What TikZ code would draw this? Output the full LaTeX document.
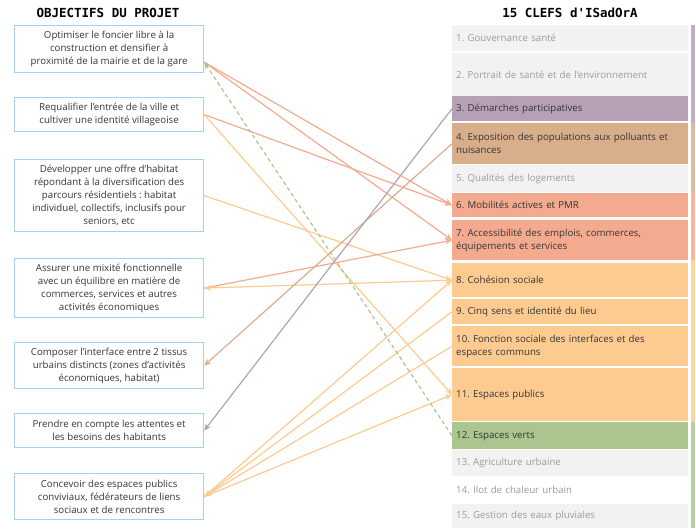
\documentclass[tikz,border=0pt]{standalone}
\usepackage{fontspec}
\setmainfont{Open Sans}
\newfontfamily\titlefont{DejaVu Sans Mono}
\usetikzlibrary{arrows.meta,calc}
\frenchspacing

\definecolor{boxblue}{HTML}{A9CEEE}
\definecolor{txtdark}{HTML}{363636}
\definecolor{txtgray}{HTML}{9C9C9C}
\definecolor{keygray}{HTML}{F2F2F2}
\definecolor{keypurple}{HTML}{B5A0B5}
\definecolor{keytan}{HTML}{D9AE8A}
\definecolor{keysalmon}{HTML}{F4AA8E}
\definecolor{keyorange}{HTML}{FDCB90}
\definecolor{keygreen}{HTML}{AAC58E}

\tikzset{
  objbox/.style={draw=boxblue, line width=1.2pt, anchor=north west, minimum width=189pt,
    align=center, inner sep=0pt, text=txtdark, font=\fontsize{9.7}{13}\selectfont},
  keyrow/.style={anchor=north west, text width=228pt, inner xsep=4pt, inner ysep=0pt,
    align=left, text=txtdark, font=\fontsize{9.7}{13}\selectfont},
  keyoff/.style={keyrow, fill=keygray, text=txtgray},
  title/.style={font=\titlefont\bfseries\fontsize{12.5}{14}\selectfont, text=black},
  link/.style={-{Stealth[length=7pt,width=6pt]}, line width=1.2pt},
}

\begin{document}
\begin{tikzpicture}[x=1pt,y=-1pt]
  \useasboundingbox (0,0) rectangle (696,528);

  % titles
  \node[title] (tobj) at (108,13) {OBJECTIFS DU PROJET};
  \node[title] (tkey) at (570,13) {15 CLEFS d{\char"0027}ISadOrA};

  % objectifs
  \node[objbox, minimum height=47pt] (o1) at (14,25)
    {Optimiser le foncier libre à la\\construction et densifier à\\proximité de la mairie et de la gare};
  \node[objbox, minimum height=34pt] (o2) at (14,97)
    {Requalifier l’entrée de la ville et\\cultiver une identité villageoise};
  \node[objbox, minimum height=72pt] (o3) at (14,159)
    {Développer une offre d’habitat\\répondant à la diversification des\\parcours résidentiels : habitat\\individuel, collectifs, inclusifs pour\\seniors, etc};
  \node[objbox, minimum height=59pt] (o4) at (14,258)
    {Assurer une mixité fonctionnelle\\avec un équilibre en matière de\\commerces, services et autres\\activités économiques};
  \node[objbox, minimum height=46pt] (o5) at (14,342)
    {Composer l’interface entre 2 tissus\\urbains distincts (zones d’activités\\économiques, habitat)};
  \node[objbox, minimum height=34pt] (o6) at (14,413)
    {Prendre en compte les attentes et\\les besoins des habitants};
  \node[objbox, minimum height=46pt] (o7) at (14,473)
    {Concevoir des espaces publics\\conviviaux, fédérateurs de liens\\sociaux et de rencontres};
  \coordinate (o1p) at ($(o1.south east)!0.23!(o1.north east)$);

  % clefs
  \node[keyoff, minimum height=26pt] (k1) at (452,25) {1. Gouvernance santé};
  \node[keyoff, minimum height=43pt] (k2) at (452,53) {2. Portrait de santé et de l’environnement};
  \node[keyrow, fill=keypurple, minimum height=25pt] (k3) at (452,96) {3. Démarches participatives};
  \node[keyrow, fill=keytan, minimum height=41pt] (k4) at (452,123) {4. Exposition des populations aux polluants et\\nuisances};
  \node[keyoff, minimum height=27pt] (k5) at (452,165) {5. Qualités des logements};
  \node[keyrow, fill=keysalmon, minimum height=24pt] (k6) at (452,193) {6. Mobilités actives et PMR};
  \node[keyrow, fill=keysalmon, minimum height=40pt] (k7) at (452,220) {7. Accessibilité des emplois, commerces,\\équipements et services};
  \node[keyrow, fill=keyorange, minimum height=34pt] (k8) at (452,263) {8. Cohésion sociale};
  \node[keyrow, fill=keyorange, minimum height=25pt] (k9) at (452,299) {9. Cinq sens et identité du lieu};
  \node[keyrow, fill=keyorange, minimum height=40pt] (k10) at (452,326) {10. Fonction sociale des interfaces et des\\espaces communs};
  \node[keyrow, fill=keyorange, minimum height=53pt] (k11) at (452,368) {11. Espaces publics};
  \node[keyrow, fill=keygreen, minimum height=27pt] (k12) at (452,422) {12. Espaces verts};
  \node[keyoff, minimum height=26pt] (k13) at (452,450) {13. Agriculture urbaine};
  \node[keyrow, fill=white, text=txtgray, minimum height=24pt] (k14) at (452,478) {14. Ilot de chaleur urbain};
  \node[keyoff, minimum height=24pt] (k15) at (452,504) {15. Gestion des eaux pluviales};

  % bande verticale
  \fill[keypurple!85!white] (691,25) rectangle (695,123);
  \fill[keytan!85!white] (691,123) rectangle (695,193);
  \fill[keysalmon!85!white] (691,193) rectangle (695,260);
  \fill[keyorange!85!white] (691,260) rectangle (695,422);
  \fill[keygreen!85!white] (691,422) rectangle (695,528);

  % liens
  \draw[link, keysalmon] (o1p) -- (k6.west);
  \draw[link, keysalmon] (o1p) -- (k7.west);
  \draw[link, keysalmon] (o2.east) -- (k6.west);
  \draw[link, keyorange] (o2.east) -- (k11.west);
  \draw[link, keyorange] (o3.east) -- (k8.west);
  \draw[link, keysalmon] (o4.east) -- (k7.west);
  \draw[link, keyorange] (k8.west) -- (o4.east);
  \draw[link, keytan] (k4.west) -- (o5.east);
  \draw[link, keypurple] (k3.west) -- (o6.east);
  \draw[link, keyorange] (o7.east) -- (k8.west);
  \draw[link, keyorange] (k9.west) -- (o7.east);
  \draw[link, keyorange] (k10.west) -- (o7.east);
  \draw[link, keyorange] (o7.east) -- (k11.west);
  \draw[link, keygreen, dash pattern=on 4pt off 3pt] (k12.west) -- (o1p);
\end{tikzpicture}
\end{document}
